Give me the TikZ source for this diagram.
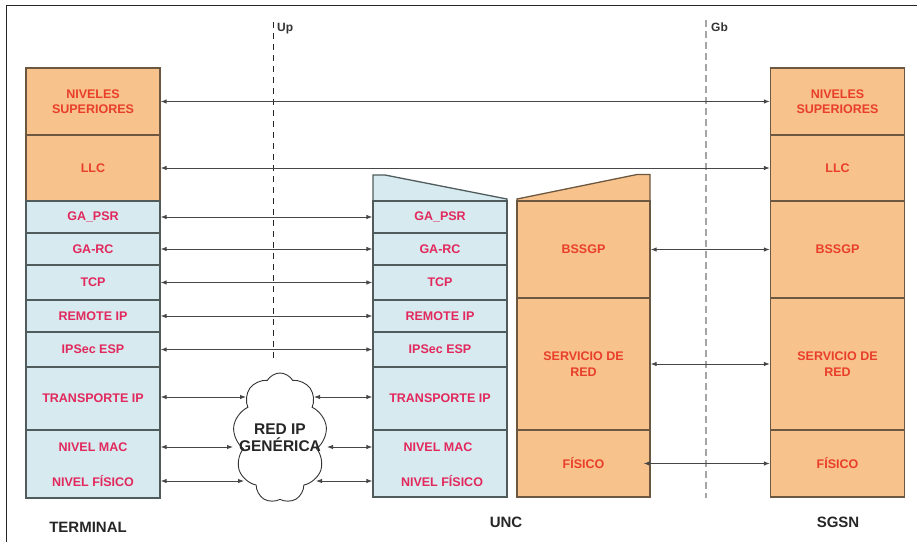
\documentclass[tikz,border=0pt]{standalone}
\usepackage{fontspec}
\setmainfont{Liberation Sans}
\usetikzlibrary{arrows.meta,shapes.symbols}

\definecolor{blueF}{RGB}{214,234,239}
\definecolor{orF}{RGB}{248,194,140}
\definecolor{blueT}{RGB}{226,40,92}
\definecolor{orT}{RGB}{232,62,42}
\definecolor{bordB}{RGB}{80,92,92}
\definecolor{bordO}{RGB}{108,88,64}
\definecolor{arrC}{RGB}{70,70,70}
\definecolor{gbC}{RGB}{165,165,165}

\newcommand\laytxt{\fontsize{12.5}{15.5}\selectfont\bfseries}
\newcommand\bigtxt{\fontsize{15}{17}\selectfont\bfseries}

\tikzset{
  lay/.style={draw=#1, line width=1.3pt, inner sep=0pt, align=center, font=\laytxt},
  bl/.style={lay=bordB, fill=blueF, text=blueT},
  ol/.style={lay=bordO, fill=orF, text=orT},
  colT/.style={minimum width=134pt},
  colB/.style={minimum width=133pt},
  txt/.style={inner sep=0pt, align=center, font=\laytxt},
  link/.style={draw=arrC, line width=0.9pt,
    {Latex[length=6pt,width=4.5pt]}-{Latex[length=6pt,width=4.5pt]}},
  lbl/.style={inner sep=0pt, font=\bigtxt, text=black!85},
  iface/.style={inner sep=0pt, font=\fontsize{12}{14}\selectfont\bfseries, text=black!80},
}

\begin{document}
\begin{tikzpicture}[x=1pt,y=-1pt]
\useasboundingbox (0,0) rectangle (917,541);

% outer frame
\draw[line width=1.2pt, black!85] (6.5,545) -- (6.5,5.5) -- (917,5.5);

% interface lines
\draw[black!85, line width=0.9pt, dash pattern=on 6pt off 5pt] (273,22) -- (273,362);
\node[iface, anchor=west] (up) at (277,29) {Up};
\draw[gbC, line width=2.6pt, dash pattern=on 7pt off 4pt] (706,20) -- (706,498);
\node[iface, anchor=west] (gb) at (711,27) {Gb};

% ---------- TERMINAL stack ----------
\node[ol, colT, minimum height=67pt] (tns)  at (93,101.5) {NIVELES\\SUPERIORES};
\node[ol, colT, minimum height=66pt] (tllc) at (93,168)   {LLC};
\node[bl, colT, minimum height=32pt] (tpsr) at (93,217)   {GA\_PSR};
\node[bl, colT, minimum height=32pt] (trc)  at (93,249)   {GA-RC};
\node[bl, colT, minimum height=35pt] (ttcp) at (93,282.5) {TCP};
\node[bl, colT, minimum height=32pt] (trip) at (93,316)   {REMOTE IP};
\node[bl, colT, minimum height=35pt] (tesp) at (93,349.5) {IPSec ESP};
\node[bl, colT, minimum height=63pt] (ttip) at (93,398.5) {TRANSPORTE IP};
\node[bl, colT, minimum height=68pt] (tmf)  at (93,464)   {};
\node[txt, text=blueT] (tmac) at (93,447) {NIVEL MAC};
\node[txt, text=blueT] (tfis) at (93,481) {NIVEL FÍSICO};
\node[lbl] (lterm) at (88,527) {TERMINAL};

% ---------- UNC stack ----------
\filldraw[fill=blueF, draw=bordB, line width=1.3pt]
  (373,175) -- (385,175) -- (507,199) -- (507,201) -- (373,201) -- cycle;
\node[bl, colT, minimum height=32pt] (upsr) at (440,217)   {GA\_PSR};
\node[bl, colT, minimum height=32pt] (urc)  at (440,249)   {GA-RC};
\node[bl, colT, minimum height=35pt] (utcp) at (440,282.5) {TCP};
\node[bl, colT, minimum height=32pt] (urip) at (440,316)   {REMOTE IP};
\node[bl, colT, minimum height=35pt] (uesp) at (440,349.5) {IPSec ESP};
\node[bl, colT, minimum height=63pt] (utip) at (440,398.5) {TRANSPORTE IP};
\node[bl, colT, minimum height=67pt] (umf)  at (440,463.5) {};
\node[txt, text=blueT] (umac) at (438,447) {NIVEL MAC};
\node[txt, text=blueT] (ufis) at (442,481) {NIVEL FÍSICO};

% BSS side of the UNC
\filldraw[fill=orF, draw=bordO, line width=1.3pt]
  (517,199) -- (637,174.5) -- (650,174.5) -- (650,201) -- (517,201) -- cycle;
\node[ol, colB, minimum height=97pt]  (bgp)  at (583.5,249.5) {BSSGP};
\node[ol, colB, minimum height=132pt] (bsr)  at (583.5,364)   {SERVICIO DE\\RED};
\node[ol, colB, minimum height=67pt]  (bfis) at (583.5,463.5) {FÍSICO};
\node[lbl] (lunc) at (506,522) {UNC};

% ---------- SGSN stack ----------
\node[ol, colT, minimum height=67pt]  (sns)  at (837.5,101.5) {NIVELES\\SUPERIORES};
\node[ol, colT, minimum height=66pt]  (sllc) at (837.5,168)   {LLC};
\node[ol, colT, minimum height=97pt]  (sgp)  at (837.5,249.5) {BSSGP};
\node[ol, colT, minimum height=132pt] (ssr)  at (837.5,364)   {SERVICIO DE\\RED};
\node[ol, colT, minimum height=67pt]  (sfis) at (837.5,463.5) {FÍSICO};
\node[lbl] (lsgsn) at (838,522) {SGSN};

% ---------- generic IP network ----------
\node[cloud, cloud puffs=9, cloud puff arc=120, cloud ignores aspect,
      minimum width=94pt, minimum height=130pt, inner sep=0pt,
      draw=black!80, line width=0.9pt, fill=white] (net) at (280,438) {};
\node[inner sep=0pt, align=center, font=\fontsize{15.5}{17}\selectfont\bfseries,
      text=black!85] (nett) at (280,438) {RED IP\\GENÉRICA};
\coordinate (n1l) at (246,397);
\coordinate (n1r) at (314,397);
\coordinate (n2l) at (233,447);
\coordinate (n2r) at (327,447);
\coordinate (n3l) at (244,481);
\coordinate (n3r) at (316,481);

% ---------- peer connections ----------
\draw[link] (tns.east)  -- (sns.west);
\draw[link] (tllc.east) -- (sllc.west);
\draw[link] (tpsr.east) -- (upsr.west);
\draw[link] (trc.east)  -- (urc.west);
\draw[link] (ttcp.east) -- (utcp.west);
\draw[link] (trip.east) -- (urip.west);
\draw[link] (tesp.east) -- (uesp.west);
\draw[link] (ttip.east |- n1l) -- (n1l);
\draw[link] (n1r) -- (utip.west |- n1r);
\draw[link] (tmac -| tmf.east) -- (n2l);
\draw[link] (n2r) -- (umac -| umf.west);
\draw[link] (tfis -| tmf.east) -- (n3l);
\draw[link] (n3r) -- (ufis -| umf.west);
\draw[link] (bgp.east) -- (sgp.west);
\draw[link] (bsr.east) -- (ssr.west);
\draw[link] ([xshift=-7pt]bfis.east) -- (sfis.west);
\end{tikzpicture}
\end{document}
